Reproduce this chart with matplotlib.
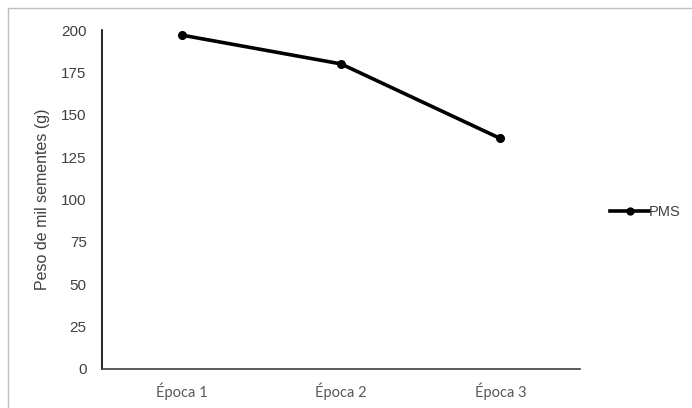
import matplotlib.pyplot as plt
from matplotlib.patches import Rectangle

# Data
epocas = ['Época 1', 'Época 2', 'Época 3']
pms = [197, 180, 136]
y_ticks = [0, 25, 50, 75, 100, 125, 150, 175, 200]

fig = plt.figure(figsize=(6.92, 4.08), dpi=100)
ax = fig.add_axes([102 / 692, 39 / 408, 478 / 692, 339 / 408])

x = range(len(epocas))
ax.plot(x, pms, color='black', linewidth=2.6, marker='o', markersize=5.5, label='PMS')

ax.set_xlim(-0.5, len(epocas) - 0.5)
ax.set_ylim(0, 200)
ax.set_xticks(list(x))
ax.set_xticklabels(epocas, fontsize=10.5, color='#595959', family=['Lato', 'DejaVu Sans'])
ax.set_yticks(y_ticks)
ax.set_yticklabels([str(v) for v in y_ticks], fontsize=11, color='#404040',
                   family=['Liberation Sans', 'DejaVu Sans'])
ax.tick_params(axis='x', length=0, pad=10)
ax.tick_params(axis='y', length=0, pad=11)

for s in ['top', 'right']:
    ax.spines[s].set_visible(False)
ax.spines['left'].set_color('black')
ax.spines['left'].set_linewidth(1.2)
ax.spines['bottom'].set_color('#404040')
ax.spines['bottom'].set_linewidth(1.2)

ax.set_ylabel('Peso de mil sementes (g)', fontsize=11.5, color='#404040',
              family=['Liberation Sans', 'DejaVu Sans'], labelpad=8)

# legend on the right
fig.legend(loc='center left', bbox_to_anchor=(604 / 692, 196 / 408), frameon=False,
           handlelength=2.7, handletextpad=0.0, borderaxespad=0, markerscale=0.9,
           prop={'family': ['Liberation Sans', 'DejaVu Sans'], 'size': 10.5}, labelcolor='#404040')

# outer chart border
fig.patches.append(Rectangle((8 / 692, -0.1), 1.2, (400 / 408) + 0.1, transform=fig.transFigure,
                             fill=False, edgecolor='#bfbfbf', linewidth=1.0))

fig.savefig('out.png', dpi=100)
